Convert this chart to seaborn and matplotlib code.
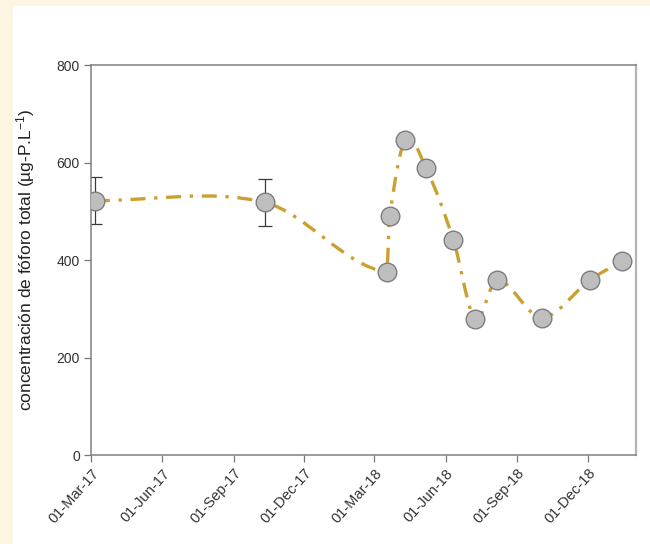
import matplotlib
matplotlib.use("Agg")
import matplotlib.pyplot as plt
import matplotlib.dates as mdates
from matplotlib.path import Path
from matplotlib.patches import PathPatch, Rectangle
import seaborn as sns
import numpy as np
import pandas as pd

# values
dates = ["2017-03-06", "2017-10-11", "2018-03-17", "2018-03-21", "2018-04-10",
         "2018-05-07", "2018-06-11", "2018-07-09", "2018-08-06", "2018-10-03",
         "2018-12-04", "2019-01-14"]
phosphorus = [522, 518, 376, 490, 646, 588, 441, 279, 359, 282, 359, 397]
errors = [49, 49, 0, 0, 0, 0, 0, 0, 0, 0, 0, 0]

ylabel = "concentración de fóforo total (µg-P.L$^{-1}$)"
line_color = "#CBA02E"

sns.set_style("ticks")
plt.rcParams["font.family"] = ["Liberation Sans", "DejaVu Sans"]
plt.rcParams["mathtext.default"] = "regular"

df = pd.DataFrame({"fecha": pd.to_datetime(dates), "P": phosphorus, "err": errors})

fig = plt.figure(figsize=(6.5, 5.44), dpi=100)
fig.patch.set_facecolor("#FBF5E2")
fig.add_artist(Rectangle((13 / 650, 0), 1, 538 / 544, transform=fig.transFigure,
                         facecolor="white", edgecolor="none", zorder=-1))
ax = fig.add_axes([0.140, 0.1636, 0.838, 0.7169])

# smooth dash-dot curve through the points (cubic Hermite drawn as Bezier)
xn = mdates.date2num(df["fecha"])
yv = df["P"].to_numpy(dtype=float)
m = np.empty_like(yv)
m[1:-1] = (yv[2:] - yv[:-2]) / (xn[2:] - xn[:-2])
m[0] = (yv[1] - yv[0]) / (xn[1] - xn[0])
m[-1] = (yv[-1] - yv[-2]) / (xn[-1] - xn[-2])
verts = [(xn[0], yv[0])]
codes = [Path.MOVETO]
for i in range(len(xn) - 1):
    h = xn[i + 1] - xn[i]
    verts += [(xn[i] + h / 3, yv[i] + m[i] * h / 3),
              (xn[i + 1] - h / 3, yv[i + 1] - m[i + 1] * h / 3),
              (xn[i + 1], yv[i + 1])]
    codes += [Path.CURVE4] * 3
curve = PathPatch(Path(verts, codes), fill=False, edgecolor=line_color, lw=2.4,
                  linestyle=(0, (4.5, 2.6, 1.0, 2.6)), capstyle="butt", zorder=3)
ax.add_patch(curve)

sub = df[df["err"] > 0]
ax.errorbar(sub["fecha"], sub["P"], yerr=sub["err"], fmt="none", ecolor="#3a3a3a",
            elinewidth=0.9, capsize=4.8, capthick=0.9, zorder=2)

sns.scatterplot(data=df, x="fecha", y="P", ax=ax, s=180, color="#BEBEBE",
                edgecolor="#7d7d7d", linewidth=1.0, zorder=4, legend=False)

ax.set_xlim(pd.Timestamp("2017-03-01"), pd.Timestamp("2019-02-01"))
ax.set_ylim(0, 800)
ax.set_yticks([0, 200, 400, 600, 800])
ax.xaxis.set_major_locator(mdates.MonthLocator(bymonth=[3, 6, 9, 12]))
ax.xaxis.set_major_formatter(mdates.DateFormatter("%d-%b-%y"))
plt.setp(ax.get_xticklabels(), rotation=48, ha="right", rotation_mode="anchor")

ax.set_xlabel("")
ax.set_ylabel(ylabel, fontsize=12.5, color="#222222")
ax.yaxis.set_label_coords(-0.099, 0.5)
ax.tick_params(axis="both", color="#777777", labelcolor="#333333",
               direction="out", length=5, width=0.9, pad=3)
ax.tick_params(axis="x", labelsize=10.5)
ax.tick_params(axis="y", labelsize=10)
for side in ["left", "right", "top", "bottom"]:
    ax.spines[side].set_visible(True)
    ax.spines[side].set_color("#808080")
    ax.spines[side].set_linewidth(1.1)
ax.spines["right"].set_color("#b5b5b5")
ax.spines["right"].set_linewidth(1.6)

plt.savefig("out.png", dpi=100)
